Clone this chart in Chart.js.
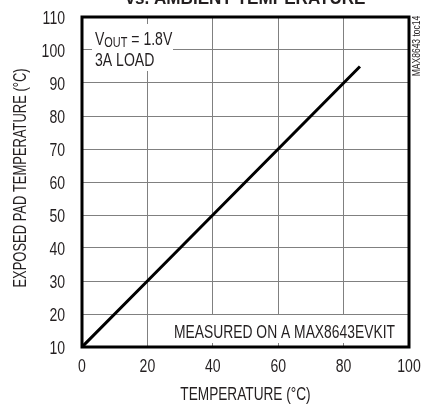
<!DOCTYPE html>
<html>
<head>
<meta charset="utf-8">
<script src="https://cdn.jsdelivr.net/npm/chart.js@4/dist/chart.umd.min.js"></script>
<style>
  html, body { margin: 0; padding: 0; background: #fff; }
  #chart { display: block; }
</style>
</head>
<body>
<canvas id="chart" width="422" height="406"></canvas>
<script>
// ambient temperature (x) vs exposed pad temperature (y)
const ambientTemp = [0, 20, 40, 60, 85];
const padTemp = [10, 30, 50, 70, 95];

const xTicks = [0, 20, 40, 60, 80, 100];
const yTicks = [10, 20, 30, 40, 50, 60, 70, 80, 90, 100, 110];

const xTitle = 'TEMPERATURE (°C)';
const yTitle = 'EXPOSED PAD TEMPERATURE (°C)';

const FONT = '"Liberation Sans", Arial, sans-serif';
const INK = '#231f20';
const NARROW = 0.78; // fake a condensed face by squeezing horizontally

// draw text squeezed horizontally
function narrowText(ctx, text, x, y, opts) {
  const o = Object.assign({ size: 18, weight: '', align: 'left', base: 'alphabetic', k: NARROW, rot: 0 }, opts);
  ctx.save();
  ctx.translate(x, y);
  if (o.rot) ctx.rotate(o.rot);
  ctx.scale(o.k, 1);
  ctx.font = (o.weight ? o.weight + ' ' : '') + o.size + 'px ' + FONT;
  ctx.textAlign = o.align;
  ctx.textBaseline = o.base;
  ctx.fillStyle = INK;
  ctx.fillText(text, 0, 0);
  const w = ctx.measureText(text).width * o.k;
  ctx.restore();
  return w;
}

const decorations = {
  id: 'decorations',
  beforeDatasetsDraw(chart) {
    const ctx = chart.ctx;
    const a = chart.chartArea;
    // white backing behind the in-plot notes
    ctx.save();
    ctx.fillStyle = '#fff';
    ctx.fillRect(a.left + 10, a.top + 7, 81, 47);
    ctx.fillRect(a.left + 88, a.bottom - 32, a.right - a.left - 91, 28);
    ctx.restore();

    let x = a.left + 13;
    x += narrowText(ctx, 'V', x, a.top + 28, { size: 18 });
    x += narrowText(ctx, 'OUT', x, a.top + 30, { size: 14 });
    narrowText(ctx, ' = 1.8V', x, a.top + 28, { size: 18 });
    narrowText(ctx, '3A LOAD', a.left + 13, a.top + 49, { size: 18 });
    narrowText(ctx, 'MEASURED ON A MAX8643EVKIT', a.right - 14, a.bottom - 9, { size: 18, align: 'right', k: 0.77 });
  },
  afterDraw(chart) {
    const ctx = chart.ctx;
    const a = chart.chartArea;
    const xs = chart.scales.x;
    const ys = chart.scales.y;

    ctx.save();
    ctx.strokeStyle = '#000';
    ctx.lineWidth = 3;
    ctx.strokeRect(a.left, a.top, a.right - a.left, a.bottom - a.top);
    ctx.restore();

    // tick labels
    xTicks.forEach(v => {
      narrowText(ctx, String(v), xs.getPixelForValue(v), a.bottom + 25, { align: 'center' });
    });
    yTicks.forEach(v => {
      narrowText(ctx, String(v), a.left - 17, ys.getPixelForValue(v) + 7, { align: 'right' });
    });

    // axis titles
    narrowText(ctx, xTitle, (a.left + a.right) / 2, 400, { size: 17.5, align: 'center' });
    narrowText(ctx, yTitle, 26, (a.top + a.bottom) / 2 - 4, { size: 17.5, align: 'center', rot: -Math.PI / 2, k: 0.74 });

    // clipped chart title at the very top
    narrowText(ctx, 'vs. AMBIENT TEMPERATURE', (a.left + a.right) / 2, 3.5, { size: 19, weight: 'bold', align: 'center', k: 0.9 });

    // side tag
    narrowText(ctx, 'MAX8643 toc14', a.right + 8, 46, { size: 10, align: 'center', base: 'middle', rot: -Math.PI / 2, k: 0.85 });
  }
};

new Chart(document.getElementById('chart'), {
  type: 'scatter',
  data: {
    datasets: [{
      data: ambientTemp.map((t, i) => ({ x: t, y: padTemp[i] })),
      showLine: true,
      borderColor: '#000',
      borderWidth: 3,
      pointRadius: 0,
      tension: 0
    }]
  },
  options: {
    responsive: false,
    animation: false,
    devicePixelRatio: 1,
    layout: { padding: { top: 17, right: 13, left: 0, bottom: 0 } },
    plugins: {
      legend: { display: false },
      tooltip: { enabled: false }
    },
    scales: {
      x: {
        type: 'linear',
        min: 0,
        max: 100,
        afterBuildTicks: s => { s.ticks = xTicks.map(v => ({ value: v })); },
        afterFit: s => { s.height = 59; },
        ticks: { display: false },
        grid: { color: '#808080', lineWidth: 1, drawTicks: false },
        border: { display: false }
      },
      y: {
        min: 10,
        max: 110,
        afterBuildTicks: s => { s.ticks = yTicks.map(v => ({ value: v })); },
        afterFit: s => { s.width = 82; },
        ticks: { display: false },
        grid: { color: '#808080', lineWidth: 1, drawTicks: false },
        border: { display: false }
      }
    }
  },
  plugins: [decorations]
});
</script>
</body>
</html>
